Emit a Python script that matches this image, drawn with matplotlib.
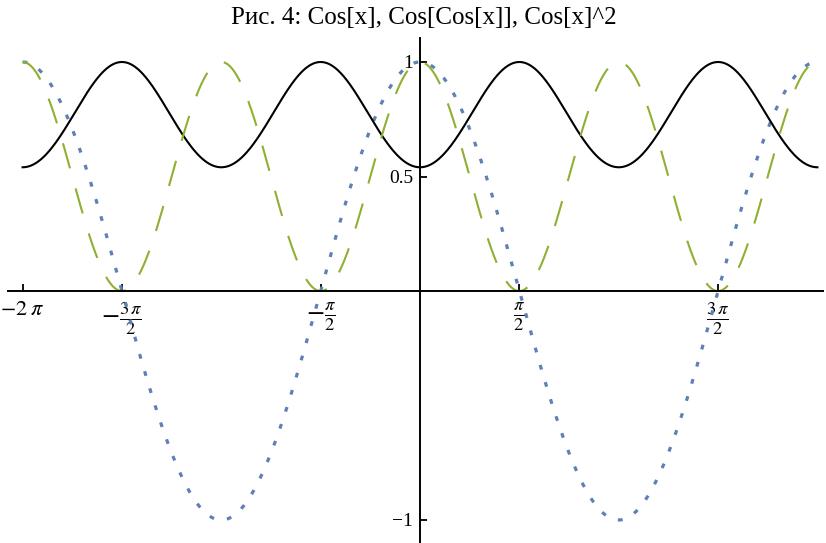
import numpy as np
import matplotlib
matplotlib.use("Agg")
import matplotlib.pyplot as plt

plt.rcParams["font.family"] = ["Liberation Serif", "DejaVu Serif"]
plt.rcParams["mathtext.fontset"] = "stix"

# Plot range and sampled curves
x_min, x_max = -2 * np.pi, 2 * np.pi
x = np.linspace(x_min, x_max, 2000)
curves = [
    ("Cos[x]", np.cos(x)),
    ("Cos[Cos[x]]", np.cos(np.cos(x))),
    ("Cos[x]^2", np.cos(x) ** 2),
]

# Tick positions and labels
x_ticks = [-2 * np.pi, -1.5 * np.pi, -0.5 * np.pi, 0.5 * np.pi, 1.5 * np.pi]
x_tick_labels = [r"$-2\;\pi$", r"$-\frac{3\,\pi}{2}$", r"$-\frac{\pi}{2}$",
                 r"$\frac{\pi}{2}$", r"$\frac{3\,\pi}{2}$"]
y_ticks = [-1, 0.5, 1]
y_tick_labels = ["\u22121", "0.5", "1"]

W, H = 826, 543
fig = plt.figure(figsize=(W / 100, H / 100), dpi=100)

# axes box in pixels
left_px, right_px, top_px, bottom_px = 8, 823, 38, 543
x0_px, y0_px = 420, 291
px_per_x = 63.25
px_per_y = 229.0
ax = fig.add_axes([left_px / W, 1 - bottom_px / H,
                   (right_px - left_px) / W, (bottom_px - top_px) / H])
ax.set_xlim(-(x0_px - left_px) / px_per_x, (right_px - x0_px) / px_per_x)
ax.set_ylim(-(bottom_px - y0_px) / px_per_y, (y0_px - top_px) / px_per_y)

styles = [
    dict(color="#5E81B5", lw=2.3, linestyle=(0, (1.5, 4.1)), dash_capstyle="butt"),
    dict(color="black", lw=1.5, linestyle="-"),
    dict(color="#8FB032", lw=1.5, linestyle=(0, (12.5, 10.0)), dash_capstyle="butt"),
]
for (name, y), st in zip(curves, styles):
    ax.plot(x, y, label=name, **st)

for side in ("top", "right"):
    ax.spines[side].set_visible(False)
for side in ("left", "bottom"):
    ax.spines[side].set_position(("data", 0))
    ax.spines[side].set_linewidth(1.4)

ax.set_xticks(x_ticks)
ax.set_xticklabels(x_tick_labels)
ax.set_yticks(y_ticks)
ax.set_yticklabels(y_tick_labels)
ax.tick_params(axis="x", direction="in", length=5, width=1.3, labelsize=16, pad=7)
ax.tick_params(axis="y", direction="in", length=5, width=1.3, labelsize=14, pad=5)
# fraction labels are drawn a little larger so numerator/denominator stay legible
for lbl in ax.get_xticklabels()[1:]:
    lbl.set_fontsize(19)
ax.patch.set_alpha(0)

fig.text(424 / W, 1 - 18 / H, "Рис. 4: Cos[x], Cos[Cos[x]], Cos[x]^2",
         ha="center", va="center", fontsize=18)

fig.savefig("out.png", dpi=100)
